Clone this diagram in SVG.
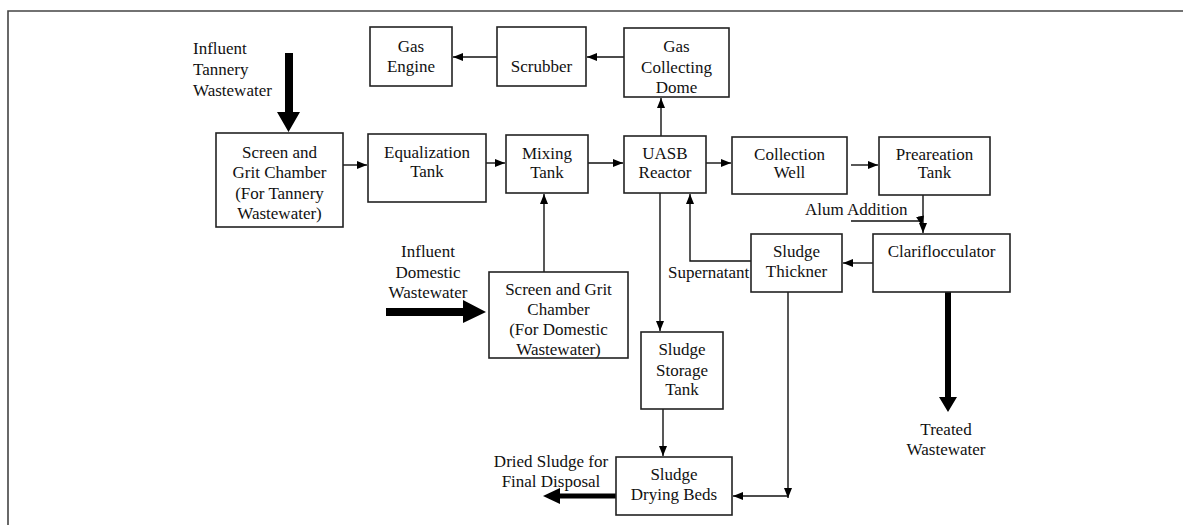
<svg xmlns="http://www.w3.org/2000/svg" width="1183" height="525" viewBox="0 0 1183 525">
<style>
.box{fill:#fff;stroke:#222;stroke-width:1.6}
text{font-family:"Liberation Serif","Times New Roman",serif;font-size:17px;fill:#111}
.c{text-anchor:middle}
.ln{fill:none;stroke:#111;stroke-width:1.4}
.thick{fill:#000}
</style>
<defs>
<marker id="ah" viewBox="0 0 10 8" refX="10" refY="4" markerWidth="10" markerHeight="8" markerUnits="userSpaceOnUse" orient="auto">
<path d="M0,0 L10,4 L0,8 z" fill="#000"/>
</marker>
</defs>
<rect width="1183" height="525" fill="#fff"/>
<path d="M8,525 V11 H1183" fill="none" stroke="#444" stroke-width="1.6"/>

<g id="connectors">
<path class="ln" marker-end="url(#ah)" d="M497,57 H453"/>
<path class="ln" marker-end="url(#ah)" d="M624,57 H587"/>
<path class="ln" marker-end="url(#ah)" d="M661,136 V98"/>
<path class="ln" marker-end="url(#ah)" d="M343,165 H367"/>
<path class="ln" marker-end="url(#ah)" d="M486,163 H505"/>
<path class="ln" marker-end="url(#ah)" d="M588,163 H623"/>
<path class="ln" marker-end="url(#ah)" d="M706,163 H731"/>
<path class="ln" marker-end="url(#ah)" d="M851,165 H878"/>
<path class="ln" marker-end="url(#ah)" d="M923,195 V233"/>
<path class="ln" marker-end="url(#ah)" d="M851,221 H921 L922,226"/>
<path class="ln" marker-end="url(#ah)" d="M873,263 H843"/>
<path class="ln" marker-end="url(#ah)" d="M751,261 H690 V194"/>
<path class="ln" marker-end="url(#ah)" d="M660,193 V331"/>
<path class="ln" marker-end="url(#ah)" d="M544,272 V194"/>
<path class="ln" marker-end="url(#ah)" d="M663,409 V456"/>
<path class="ln" marker-end="url(#ah)" d="M788,292 V498"/>
<path class="ln" marker-end="url(#ah)" d="M788,496 H733"/>
<path class="thick" d="M285,53 H293 V112 H300 L288.5,132 L277,112 H285 Z"/>
<path class="thick" d="M386,308 H463 V300 L486,312 L463,323 V316 H386 Z"/>
<path class="thick" d="M945,292 H951 V397 H957 L948,412 L939,397 H945 Z"/>
<path class="thick" d="M616,493.5 V498.5 H560 V504 L543,496 L560,488 V493.5 Z"/>
</g>

<g id="gas-engine"><rect class="box" x="370" y="27" width="82" height="59"/><text class="c" x="411" y="52">Gas</text><text class="c" x="411" y="72">Engine</text></g>
<g id="scrubber"><rect class="box" x="497" y="27" width="89" height="59"/><text class="c" x="541.5" y="72">Scrubber</text></g>
<g id="gas-dome"><rect class="box" x="624" y="28" width="105" height="69"/><text class="c" x="676.5" y="52">Gas</text><text class="c" x="676.5" y="73">Collecting</text><text class="c" x="676.5" y="93">Dome</text></g>
<g id="screen-tannery"><rect class="box" x="216" y="133" width="127" height="94"/><text class="c" x="279.5" y="158">Screen and</text><text class="c" x="279.5" y="178">Grit Chamber</text><text class="c" x="279.5" y="199">(For Tannery</text><text class="c" x="279.5" y="219">Wastewater)</text></g>
<g id="equalization"><rect class="box" x="368" y="134" width="118" height="68"/><text class="c" x="427" y="158">Equalization</text><text class="c" x="427" y="177">Tank</text></g>
<g id="mixing"><rect class="box" x="506" y="135" width="82" height="58"/><text class="c" x="547" y="159">Mixing</text><text class="c" x="547" y="178">Tank</text></g>
<g id="uasb"><rect class="box" x="624" y="136" width="82" height="57"/><text class="c" x="665" y="159">UASB</text><text class="c" x="665" y="178">Reactor</text></g>
<g id="collection"><rect class="box" x="732" y="137" width="115" height="57"/><text class="c" x="789.5" y="160">Collection</text><text class="c" x="789.5" y="178">Well</text></g>
<g id="preareation"><rect class="box" x="879" y="137" width="111" height="58"/><text class="c" x="934.5" y="160">Preareation</text><text class="c" x="934.5" y="178">Tank</text></g>
<g id="clariflocculator"><rect class="box" x="873" y="234" width="137" height="58"/><text class="c" x="941.5" y="257">Clariflocculator</text></g>
<g id="thickner"><rect class="box" x="751" y="234" width="91" height="58"/><text class="c" x="796.5" y="257">Sludge</text><text class="c" x="796.5" y="277">Thickner</text></g>
<g id="screen-domestic"><rect class="box" x="489" y="272" width="139" height="86"/><text class="c" x="558.5" y="295">Screen and Grit</text><text class="c" x="558.5" y="315">Chamber</text><text class="c" x="558.5" y="335">(For Domestic</text><text class="c" x="558.5" y="355">Wastewater)</text></g>
<g id="storage"><rect class="box" x="641" y="332" width="82" height="77"/><text class="c" x="682" y="355">Sludge</text><text class="c" x="682" y="376">Storage</text><text class="c" x="682" y="395">Tank</text></g>
<g id="drying"><rect class="box" x="616" y="457" width="116" height="58"/><text class="c" x="674" y="480">Sludge</text><text class="c" x="674" y="500">Drying Beds</text></g>

<g id="labels">
<text x="193" y="54">Influent</text><text x="193" y="75">Tannery</text><text x="193" y="96">Wastewater</text>
<text class="c" x="428" y="257">Influent</text><text class="c" x="428" y="278">Domestic</text><text class="c" x="428" y="298">Wastewater</text>
<text x="805" y="215">Alum Addition</text>
<text x="668" y="278">Supernatant</text>
<text class="c" x="946" y="435">Treated</text><text class="c" x="946" y="455">Wastewater</text>
<text class="c" x="551" y="467">Dried Sludge for</text><text class="c" x="551" y="487">Final Disposal</text>
</g>
</svg>
